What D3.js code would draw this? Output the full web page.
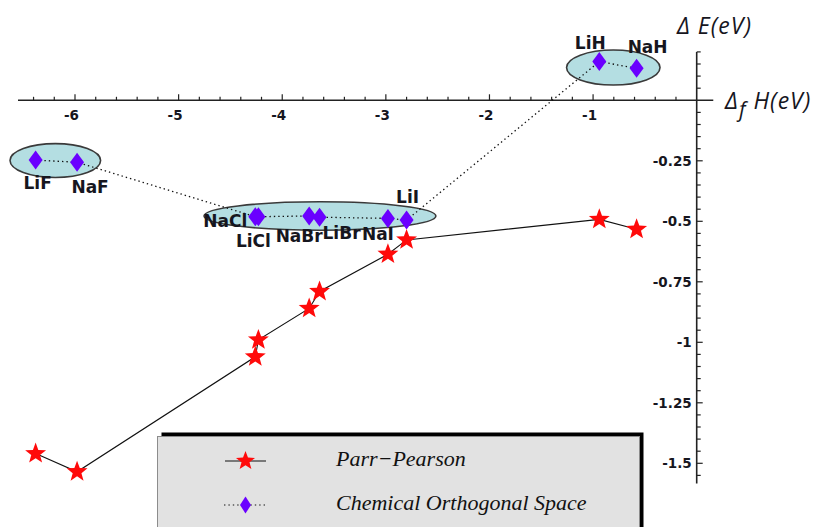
<!DOCTYPE html>
<html><head><meta charset="utf-8">
<script src="https://cdn.jsdelivr.net/npm/d3@7"></script>
<style>body{margin:0;background:#fff}svg{display:block}</style>
</head><body><svg id="chart" width="819" height="527"></svg>
<script>
// Alkali halides and hydrides, ordered by formation enthalpy
const compounds = ["LiF", "NaF", "NaCl", "LiCl", "NaBr", "LiBr", "NaI", "LiI", "LiH", "NaH"];
const formationEnthalpy = [-6.38, -5.98, -4.26, -4.23, -3.74, -3.64, -2.98, -2.80, -0.94, -0.58]; // eV
const parrPearson = [-1.46, -1.535, -1.06, -0.99, -0.86, -0.79, -0.636, -0.577, -0.492, -0.533]; // eV
const orthogonalSpace = [-0.247, -0.256, -0.481, -0.481, -0.478, -0.483, -0.488, -0.495, 0.160, 0.132]; // eV
const xTickValues = [-6, -5, -4, -3, -2, -1];
const yTickValues = [-0.25, -0.5, -0.75, -1, -1.25, -1.5];
const seriesNames = ["Parr\u2212Pearson", "Chemical Orthogonal Space"];

// Groups highlighted with ellipses (data units: centre x, centre y, half-width, half-height)
const groupCx = [-6.19, -3.636, -0.805];
const groupCy = [-0.249, -0.478, 0.1355];
const groupRx = [0.437, 1.119, 0.451];
const groupRy = [0.070, 0.0587, 0.0723];

// Label placement around each diamond, in pixels
const labelDx = [2, 13, -30, -5, -10, 22, -10, 1, -9, 11];
const labelDy = [29, 31, 10, 30, 26, 22, 22, -17, -13, -15];

const svg = d3.select("#chart");
const x = d3.scaleLinear().domain([-6, 0]).range([75, 696.7]);
const y = d3.scaleLinear().domain([0, -1.5]).range([100.3, 463.3]);

const pts = compounds.map((c, i) => ({
  name: c, h: formationEnthalpy[i], pp: parrPearson[i], cos: orthogonalSpace[i],
  dx: labelDx[i], dy: labelDy[i]
}));

function starPath(R, r) {
  const p = [];
  for (let k = 0; k < 10; k++) {
    const a = -Math.PI / 2 + k * Math.PI / 5;
    const rr = k % 2 === 0 ? R : r;
    p.push([rr * Math.cos(a), rr * Math.sin(a)]);
  }
  return "M" + p.map(q => q[0].toFixed(2) + "," + q[1].toFixed(2)).join("L") + "Z";
}
function diamondPath(w, h) {
  return `M0,${-h}L${w},0L0,${h}L${-w},0Z`;
}
const starD = starPath(11, 4.6);
const diamondD = diamondPath(7, 9.5);
const ink = "#16161e";

// ---- axes ----
const axes = svg.append("g").attr("stroke", "#222").attr("stroke-width", 1.6);
axes.append("line").attr("x1", x(-6.55)).attr("x2", x(0.16)).attr("y1", y(0)).attr("y2", y(0));
axes.append("line").attr("x1", x(0)).attr("x2", x(0)).attr("y1", y(0.2)).attr("y2", y(-1.583));

const xMinor = d3.range(-64, 0, 2).map(v => v / 10);
axes.selectAll(".xt").data(xMinor).join("line")
  .attr("x1", d => x(d)).attr("x2", d => x(d))
  .attr("y1", y(0))
  .attr("y2", d => y(0) - (Math.abs(d - Math.round(d)) < 1e-6 ? 6 : 3.5))
  .attr("stroke-width", 1.2);

const yMinor = d3.range(-31, 5).map(v => v * 0.05).filter(v => Math.abs(v) > 1e-6);
axes.selectAll(".yt").data(yMinor).join("line")
  .attr("y1", d => y(d)).attr("y2", d => y(d))
  .attr("x1", x(0))
  .attr("x2", d => x(0) + (Math.abs(d * 4 - Math.round(d * 4)) < 1e-6 ? 6 : 4))
  .attr("stroke-width", 1.2);

const tickFont = "'DejaVu Sans', Verdana, sans-serif";
svg.append("g").selectAll("text").data(xTickValues).join("text")
  .attr("x", d => x(d) - 3.5).attr("y", y(0) + 20)
  .attr("text-anchor", "middle")
  .attr("font-family", tickFont).attr("font-size", 13.5).attr("font-weight", "bold")
  .attr("fill", ink).text(d => d);

svg.append("g").selectAll("text").data(yTickValues).join("text")
  .attr("x", x(0) - 5).attr("y", d => y(d))
  .attr("dy", "0.36em")
  .attr("text-anchor", "end")
  .attr("font-family", tickFont).attr("font-size", 13.5).attr("font-weight", "bold")
  .attr("fill", ink).text(d => d);

// axis titles
const titleFont = "'Open Sans', 'Noto Sans', sans-serif";
svg.append("text").attr("x", 677).attr("y", 34)
  .attr("font-family", titleFont).attr("font-style", "italic").attr("font-size", 23)
  .attr("letter-spacing", 1)
  .attr("fill", ink).text("\u0394 E(eV)");
const hTitle = svg.append("text").attr("x", 725).attr("y", 109)
  .attr("font-family", titleFont).attr("font-style", "italic").attr("font-size", 23)
  .attr("letter-spacing", 1)
  .attr("fill", ink);
hTitle.append("tspan").text("\u0394");
hTitle.append("tspan").attr("dy", 8).attr("font-size", 21).text("f");
hTitle.append("tspan").attr("dy", -8).attr("dx", 7).text("H(eV)");

// ---- group ellipses ----
svg.append("g").selectAll("ellipse").data(groupCx).join("ellipse")
  .attr("cx", (d, i) => x(d)).attr("cy", (d, i) => y(groupCy[i]))
  .attr("rx", (d, i) => x(groupRx[i]) - x(0))
  .attr("ry", (d, i) => y(0) - y(groupRy[i]))
  .attr("fill", "#b4dee2").attr("stroke", "#3a3a3a").attr("stroke-width", 1.6);

// ---- Chemical Orthogonal Space series ----
svg.append("path").datum(pts)
  .attr("d", d3.line().x(d => x(d.h)).y(d => y(d.cos)))
  .attr("fill", "none").attr("stroke", "#111").attr("stroke-width", 1.3)
  .attr("stroke-dasharray", "1.4,3");

// ---- Parr-Pearson series ----
svg.append("path").datum(pts)
  .attr("d", d3.line().x(d => x(d.h)).y(d => y(d.pp)))
  .attr("fill", "none").attr("stroke", "#111").attr("stroke-width", 1.1);

svg.append("g").selectAll("path").data(pts).join("path")
  .attr("transform", d => `translate(${x(d.h)},${y(d.cos)})`)
  .attr("d", diamondD).attr("fill", "#6a00ff");

svg.append("g").selectAll("path").data(pts).join("path")
  .attr("transform", d => `translate(${x(d.h)},${y(d.pp)})`)
  .attr("d", starD).attr("fill", "#ff0a0a");

// compound labels
svg.append("g").selectAll("text").data(pts).join("text")
  .attr("x", d => x(d.h) + d.dx).attr("y", d => y(d.cos) + d.dy)
  .attr("text-anchor", "middle")
  .attr("font-family", "'DejaVu Sans', Verdana, sans-serif").attr("font-weight", "bold")
  .attr("font-size", 17).attr("fill", ink)
  .text(d => d.name);

// ---- legend ----
const lg = svg.append("g");
lg.append("rect").attr("x", 161.5).attr("y", 432.5).attr("width", 482).attr("height", 120).attr("fill", "#000");
lg.append("rect").attr("x", 157.5).attr("y", 436.5).attr("width", 482).attr("height", 120)
  .attr("fill", "#e2e2e2").attr("stroke", "#8c8c8c").attr("stroke-width", 1);

const legendY = [461, 505];
lg.append("line").attr("x1", 225).attr("x2", 266).attr("y1", legendY[0]).attr("y2", legendY[0])
  .attr("stroke", "#111").attr("stroke-width", 1.2);
lg.append("path").attr("transform", `translate(245.5,${legendY[0]})`).attr("d", starPath(10, 4.2)).attr("fill", "#ff0a0a");
lg.append("line").attr("x1", 224).attr("x2", 266).attr("y1", legendY[1]).attr("y2", legendY[1])
  .attr("stroke", "#111").attr("stroke-width", 1.2).attr("stroke-dasharray", "1.4,3");
lg.append("path").attr("transform", `translate(245.5,${legendY[1]})`).attr("d", diamondPath(5.5, 8.5)).attr("fill", "#6a00ff");

lg.selectAll(".lt").data(seriesNames).join("text")
  .attr("x", 336).attr("y", (d, i) => legendY[i] + 4.5)
  .attr("font-family", "'Liberation Serif', 'Times New Roman', serif")
  .attr("font-style", "italic").attr("font-size", 22).attr("fill", "#111")
  .text(d => d);
</script>
</body></html>
